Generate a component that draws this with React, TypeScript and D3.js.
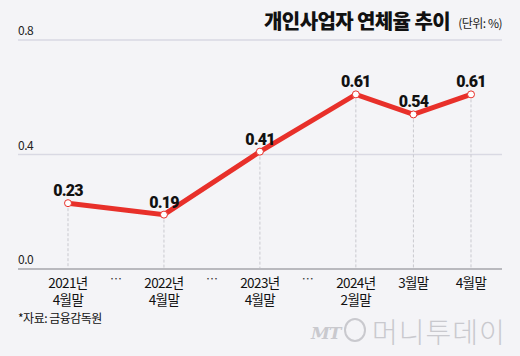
import React from "react";
import * as d3 from "d3";

const categories = [["2021년", "4월말"], ["2022년", "4월말"], ["2023년", "4월말"], ["2024년", "2월말"], ["3월말"], ["4월말"]];
const slots = [0, 2, 4, 6, 7.2, 8.4];
const gapSlots = [1, 3, 5];
const values = [0.23, 0.19, 0.41, 0.61, 0.54, 0.61];
const valueLabels = ["0.23", "0.19", "0.41", "0.61", "0.54", "0.61"];
const yTicks = [0, 0.4, 0.8];
const yTickLabels = ["0.0", "0.4", "0.8"];

const W = 520, H = 356;
const RED = "#e8302a";
const FONT = "'Noto Sans CJK KR', 'Noto Sans', sans-serif";

export default function App() {
  const x = d3.scaleLinear().domain([0, 8.4]).range([68, 471]);
  const y = d3.scaleLinear().domain([0, 0.8]).range([269, 40]);
  const pts = values.map((v, i) => [x(slots[i]), y(v)] as [number, number]);
  const line = d3.line()(pts) || "";
  return (
    <div style={{ position: "fixed", left: 0, top: 0 }}>
      <svg width={W} height={H} style={{ display: "block", fontFamily: FONT }}>
        <rect width={W} height={H} fill="#f4f4f7" />
        {yTicks.map((t, i) => (
          <g key={i}>
            <line x1={18} x2={502} y1={y(t)} y2={y(t)} stroke={t === 0 ? "#b9b9be" : "#d9d9e3"} strokeWidth={t === 0 ? 2 : 1.5} />
            <text x={18} y={y(t) - 5} fontSize={12} fill="#222" letterSpacing={-0.5}>{yTickLabels[i]}</text>
          </g>
        ))}
        {pts.map((p, i) => (
          <line key={i} x1={p[0]} x2={p[0]} y1={p[1]} y2={y(0) - 1} stroke="#c9c9cf" strokeWidth={1} strokeDasharray="3,2" />
        ))}
        <path d={line} fill="none" stroke={RED} strokeWidth={5} strokeLinejoin="miter" />
        {pts.map((p, i) => (
          <circle key={i} cx={p[0]} cy={p[1]} r={3.5} fill="#fff" stroke={RED} strokeWidth={1} />
        ))}
        {pts.map((p, i) => (
          <text key={i} x={p[0]} y={p[1] - 7} textAnchor="middle" fontSize={16} fontWeight={900} fill="#111" letterSpacing={-0.8} fontFamily="Roboto, sans-serif">{valueLabels[i]}</text>
        ))}
        {categories.map((c, i) =>
          c.map((s, j) => (
            <text key={i + "-" + j} x={x(slots[i])} y={288 + j * 17} textAnchor="middle" fontSize={13.5} fill="#111" letterSpacing={-0.6}>{s}</text>
          ))
        )}
        {gapSlots.map((g, i) => (
          <text key={i} x={x(g)} y={284} textAnchor="middle" fontSize={12} fill="#333">…</text>
        ))}
        <text x={450} y={29} textAnchor="end" fontSize={20} fontWeight={900} fill="#111" letterSpacing={-0.6}>개인사업자 연체율 추이</text>
        <text x={502} y={28} textAnchor="end" fontSize={12} fill="#222" letterSpacing={-0.5}>(단위: %)</text>
        <text x={18} y={323} fontSize={12} fill="#111" letterSpacing={-0.5}>*자료: 금융감독원</text>
        <g fill="#c9c9ce">
          <text x={311} y={339} fontSize={17} fontStyle="italic" fontWeight="bold" fontFamily="'DejaVu Serif', serif" letterSpacing={-1}>MT</text>
          <ellipse cx={355} cy={330} rx={10} ry={11} fill="none" stroke="#c9c9ce" strokeWidth={2} />
          <text x={372} y={343} fontSize={28} fontWeight="300" letterSpacing={1}>머니투데이</text>
        </g>
      </svg>
    </div>
  );
}
